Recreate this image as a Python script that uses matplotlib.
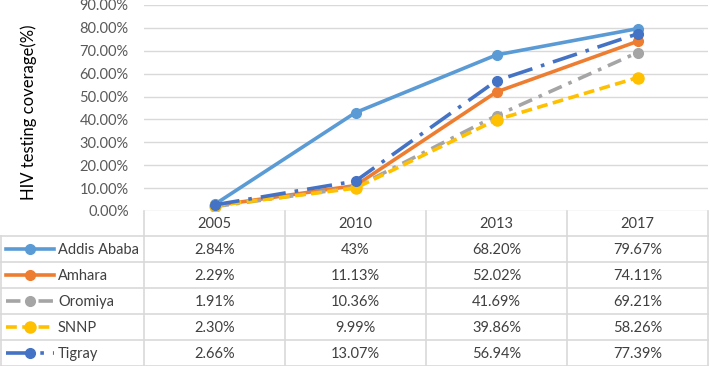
import matplotlib
matplotlib.use("Agg")
import matplotlib.pyplot as plt
from matplotlib.lines import Line2D

# data
years = ["2005", "2010", "2013", "2017"]
regions = ["Addis Ababa", "Amhara", "Oromiya", "SNNP", "Tigray"]
addis = [2.84, 43.0, 68.20, 79.67]
amhara = [2.29, 11.13, 52.02, 74.11]
oromiya = [1.91, 10.36, 41.69, 69.21]
snnp = [2.30, 9.99, 39.86, 58.26]
tigray = [2.66, 13.07, 56.94, 77.39]
cell_text = [
    ["2.84%", "43%", "68.20%", "79.67%"],
    ["2.29%", "11.13%", "52.02%", "74.11%"],
    ["1.91%", "10.36%", "41.69%", "69.21%"],
    ["2.30%", "9.99%", "39.86%", "58.26%"],
    ["2.66%", "13.07%", "56.94%", "77.39%"],
]

series = [addis, amhara, oromiya, snnp, tigray]
colors = ["#5B9BD5", "#ED7D31", "#A5A5A5", "#FFC000", "#4472C4"]
styles = ["-", "-", (0, (4, 2, 1, 2)), (0, (3, 1.5)), (0, (7, 2.5, 1, 2.5))]
msizes = [7, 7, 7, 8, 7]

plt.rcParams['font.family'] = ['Lato', 'DejaVu Sans']
txt = "#404040"

W, H = 710, 366
fig = plt.figure(figsize=(W / 100, H / 100), dpi=100)

# plot area
x0, x1 = 144, 708
ytop, ybot = 5, 211
ax = fig.add_axes([x0 / W, (H - ybot) / H, (x1 - x0) / W, (ybot - ytop) / H])
xs = list(range(len(years)))
for vals, c, ls, ms in zip(series, colors, styles, msizes):
    ax.plot(xs, [v / 100 for v in vals], color=c, lw=2.6, ls=ls,
            marker="o", ms=ms, markeredgecolor=c, zorder=3)
ax.set_xlim(-0.5, len(years) - 0.5)
ax.set_ylim(0, 0.9)
ax.set_yticks([i / 10 for i in range(10)])
ax.set_yticklabels(["%.2f%%" % (i * 10) for i in range(10)], color="#595959", fontsize=10.5)
ax.set_xticks([])
ax.tick_params(axis="y", length=0, pad=11)
ax.grid(axis="y", color="#D9D9D9", lw=1)
ax.set_axisbelow(True)
for s in ax.spines.values():
    s.set_visible(False)
ax.set_ylabel("HIV testing coverage(%)", fontsize=12, color="black")
ax.yaxis.set_label_coords(-0.19, 0.48)

# data table underneath
tb = fig.add_axes([0, 0, 1, 1])
tb.set_xlim(0, W)
tb.set_ylim(H, 0)
tb.axis("off")
gc = "#D9D9D9"
colw = (x1 - x0) / len(years)
row_h = 26
hdr_top, hdr_bot = ybot, 236
# header
for i, yr in enumerate(years):
    tb.text(x0 + colw * (i + 0.5), (hdr_top + hdr_bot) / 2 + 1, yr, ha="center", va="center",
            fontsize=10.5, color=txt)
for i in range(len(years) + 1):
    tb.plot([x0 + colw * i] * 2, [hdr_top, hdr_bot], color=gc, lw=1.2)
tb.plot([1, x1], [hdr_bot, hdr_bot], color=gc, lw=1.2)
for r, name in enumerate(regions):
    yt = hdr_bot + r * row_h
    yc = yt + row_h / 2
    tb.plot([1, x1], [yt + row_h, yt + row_h], color=gc, lw=1.2)
    tb.text(58, yc + 1, name, ha="left", va="center", fontsize=10.5, color=txt)
    for i, s in enumerate(cell_text[r]):
        tb.text(x0 + colw * (i + 0.5), yc + 1, s, ha="center", va="center",
                fontsize=10.5, color=txt)
    tb.add_line(Line2D([6, 54], [yc, yc], color=colors[r], lw=2.6, ls=styles[r]))
    tb.add_line(Line2D([30], [yc], color=colors[r], marker="o", ms=msizes[r], ls="none"))
for xv in [1] + [x0 + colw * i for i in range(len(years) + 1)]:
    tb.plot([xv, xv], [hdr_bot, hdr_bot + row_h * len(regions)], color=gc, lw=1.2)

fig.savefig("out.png", dpi=100)
